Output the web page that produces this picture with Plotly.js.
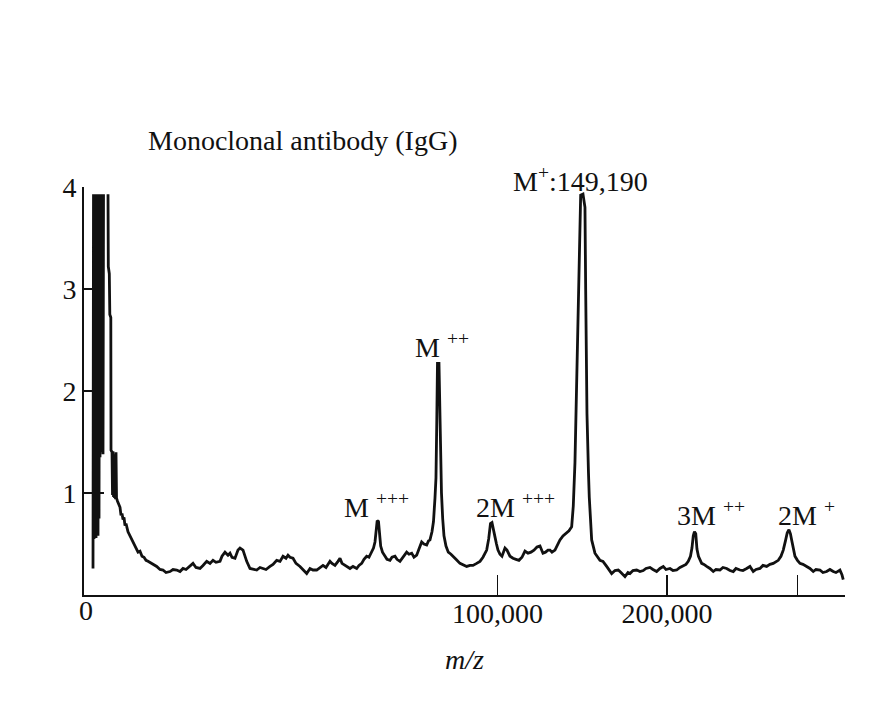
<!DOCTYPE html>
<html>
<head>
<meta charset="utf-8">
<script src="https://cdn.plot.ly/plotly-3.0.1.min.js"></script>
<style>html,body{margin:0;padding:0;background:#fff;}#chart{width:872px;height:705px;}</style>
</head>
<body>
<div id="chart"></div>
<script>
// m/z values of the trace (axis is drawn on a square-root, time-of-flight scale)
const mz = [14.9, 18.0, 21.5, 25.2, 29.2, 33.5, 38.2, 43.1, 48.3, 53.8, 59.6, 65.7, 72.2, 78.9, 85.9, 93.2, 100.8, 108.7, 116.9, 125.4, 134.2, 143.3,
  193.2,
  238.5, 245.7, 270.5, 283.4, 310.0, 315.4, 343.5, 357.9, 372.7, 387.7, 403.1, 418.7, 434.7, 451.0, 467.5, 484.4, 518.9,
  573, 611, 649, 689, 731, 773, 816, 861, 954, 1002, 1103, 1208, 1262, 1374, 1491, 1612, 1739, 1870, 2006, 2147, 2292,
  2519, 2814, 3091, 3354, 3628, 4010, 4308, 4691, 5047, 5382, 5727, 6204, 6574, 6955, 7480, 7886, 8402, 8875, 9317, 9770,
  10390, 10707, 11192, 11687, 12024, 12365, 12885, 13417, 13777, 14326, 14698, 15018, 15649, 16234, 16970, 17641, 18262, 18893,
  19752, 20408, 21233, 21982, 22674, 23377, 23852, 24331, 25059, 25798, 26800, 27564, 28521, 29388, 30187, 31188, 32095, 32930,
  33777, 34921, 35501, 36379, 37268, 37867, 38471, 39384, 40309, 40932, 41875, 43052, 43792, 44669, 45423, 46316, 47084, 47993,
  48604, 49116, 49528, 49872, 50321, 50738, 51086, 51717, 52598, 53309, 54384, 55107, 56200, 56935, 58045, 59167, 60565, 61443,
  62481, 63372, 64426, 65330, 66401, 67319, 68405, 69134, 69745, 70563, 71180, 71799, 72214, 72546, 72837, 73464, 73799, 74177,
  74514, 75021, 75572, 76424, 77409, 78573, 79572, 80753, 82517, 83854, 85517, 87013, 88386, 90092, 91629, 93037, 94788, 95741,
  96604, 97325, 98049, 98775, 99505, 100237, 101217, 102202, 103689, 104686, 106190, 107705, 109232, 110768, 112316, 113873,
  115442, 117022, 118612, 120213, 121825, 123448, 124808, 126176, 127275, 128380, 130045, 131721, 132844, 134539, 136643, 137959,
  139512, 140437, 141422, 142004, 143170, 144752, 146107, 147289, 147705, 148478, 149371, 149850, 151288, 153276, 156314, 158152,
  160432, 161858, 163540, 165608, 167689, 169401, 171952, 173879, 175169, 177114, 179527, 181693, 183872, 185665, 188335, 190352,
  192853, 195097, 197355, 199212, 201978, 204066, 206656, 208979, 211316, 213237, 214881, 216459, 217537, 218475, 219341, 220283,
  221154, 222244, 224580, 226267, 228255, 230696, 233151, 235169, 238173, 240440, 243250, 245770, 248304, 250386, 253486, 255825,
  258723, 261321, 263934, 266081, 269276, 271686, 274672, 277350, 280041, 282252, 284142, 286370, 288273, 290101, 291600, 293019,
  294275, 295281, 296625, 298057, 300168, 302288, 304840, 308003, 310838, 313686, 316026, 319508, 322132, 325384, 328297, 331224,
  333629, 337206, 339002, 340172];

// relative intensity (null = pen lifted above full scale)
const intensity = [0.26, 3.93, 0.55, 3.93, 0.57, 3.93, 0.56, 3.93, 0.60, 3.93, 0.58, 3.93, 0.75, 3.93, 1.35, 3.93, 1.40, 3.93, 1.42, 3.93, 1.38, 3.93,
  null,
  3.93, 3.22, 3.15, 2.75, 2.72, 1.42, 1.40, 0.98, 1.41, 0.96, 1.38, 0.95, 1.36, 0.94, 1.40, 0.95, 0.92,
  0.88, 0.86, 0.78, 0.80, 0.74, 0.76, 0.68, 0.70, 0.62, 0.60, 0.55, 0.52, 0.50, 0.46, 0.42, 0.43, 0.38, 0.37, 0.34, 0.33, 0.32,
  0.30, 0.28, 0.25, 0.245, 0.22, 0.23, 0.25, 0.245, 0.23, 0.26, 0.25, 0.28, 0.31, 0.27, 0.26, 0.29, 0.33, 0.31, 0.34, 0.32,
  0.33, 0.38, 0.42, 0.39, 0.41, 0.37, 0.36, 0.44, 0.46, 0.44, 0.38, 0.33, 0.26, 0.25, 0.245, 0.27, 0.26, 0.25,
  0.28, 0.30, 0.34, 0.33, 0.38, 0.36, 0.39, 0.37, 0.36, 0.31, 0.28, 0.25, 0.21, 0.26, 0.245, 0.245, 0.27, 0.29,
  0.27, 0.33, 0.31, 0.29, 0.33, 0.36, 0.31, 0.29, 0.27, 0.26, 0.28, 0.26, 0.29, 0.31, 0.35, 0.38, 0.37, 0.42,
  0.46, 0.52, 0.66, 0.73, 0.72, 0.62, 0.48, 0.42, 0.38, 0.35, 0.34, 0.37, 0.38, 0.35, 0.33, 0.37, 0.42, 0.40,
  0.41, 0.37, 0.39, 0.45, 0.52, 0.50, 0.49, 0.53, 0.54, 0.62, 0.72, 0.95, 1.15, 1.70, 2.27, 2.27, 1.70, 1.40,
  1.00, 0.75, 0.58, 0.48, 0.42, 0.40, 0.38, 0.35, 0.31, 0.30, 0.28, 0.29, 0.29, 0.31, 0.33, 0.37, 0.44, 0.55,
  0.70, 0.71, 0.62, 0.57, 0.50, 0.44, 0.40, 0.38, 0.46, 0.44, 0.38, 0.36, 0.35, 0.34, 0.37, 0.43,
  0.41, 0.42, 0.44, 0.47, 0.48, 0.41, 0.42, 0.44, 0.44, 0.42, 0.44, 0.50, 0.54, 0.58, 0.61, 0.63,
  0.67, 0.87, 1.30, 1.78, 2.70, 3.92, 3.93, 3.80, 3.00, 1.78, 1.20, 0.96, 0.54, 0.41, 0.34, 0.33,
  0.28, 0.25, 0.21, 0.24, 0.245, 0.22, 0.18, 0.22, 0.21, 0.24, 0.245, 0.23, 0.24, 0.26, 0.27, 0.25,
  0.23, 0.26, 0.28, 0.25, 0.26, 0.24, 0.245, 0.27, 0.29, 0.30, 0.33, 0.38, 0.46, 0.58, 0.62, 0.60,
  0.45, 0.38, 0.31, 0.30, 0.28, 0.26, 0.23, 0.25, 0.245, 0.27, 0.26, 0.24, 0.23, 0.26, 0.245, 0.24,
  0.26, 0.28, 0.23, 0.25, 0.26, 0.29, 0.28, 0.30, 0.31, 0.33, 0.34, 0.38, 0.44, 0.53, 0.61, 0.64,
  0.60, 0.54, 0.46, 0.38, 0.34, 0.31, 0.30, 0.28, 0.26, 0.23, 0.25, 0.245, 0.22, 0.23, 0.25, 0.23,
  0.22, 0.245, 0.20, 0.15];

// x-axis tick values (m/z) and labels
const xTickMz = [100000, 200000, 300000];
const xTickText = ['100,000', '200,000', ''];
// y-axis ticks
const yTickVals = [1, 2, 3, 4];
const yTickText = ['1', '2', '3', '4'];

// peak labels
const ionText = ['M<sup>+</sup>:149,190', 'M <sup>++</sup>', 'M <sup>+++</sup>', '2M <sup>+++</sup>', '3M <sup>++</sup>', '2M <sup>+</sup>'];
const ionMz = [149190, 74595, 49730, 99460, 223785, 298380];
const ionLabelY = [4.0, 2.45, 0.88, 0.88, 0.80, 0.80];

const titleText = 'Monoclonal antibody (IgG)';
const xTitle = '<i>m/z</i>';

const sq = v => Math.sqrt(v);
const FONT = 'Liberation Serif, Times New Roman, serif';
const FS = 28;
const ionShift = [-8, 0, 0, 19, 10, 11];
const ionYShift = [8, 0, 0, 0, 0, 0];

const trace = {
  type: 'scatter', mode: 'lines',
  x: mz.map(sq), y: intensity,
  connectgaps: false,
  line: {color: '#111', width: 2.8},
  hoverinfo: 'skip', showlegend: false
};

const annotations = ionText.map((t, i) => ({
  x: sq(ionMz[i]), y: ionLabelY[i], xref: 'x', yref: 'y',
  text: t, showarrow: false, xanchor: 'center', yanchor: 'middle',
  xshift: ionShift[i], yshift: ionYShift[i],
  font: {family: FONT, size: FS, color: '#111'}
}));

const layout = {
  width: 872, height: 705,
  paper_bgcolor: '#fff', plot_bgcolor: '#fff',
  margin: {l: 84, r: 27, t: 187, b: 110, pad: 0},
  title: {
    text: titleText, xref: 'container', yref: 'container',
    x: 148 / 872, xanchor: 'left', y: 1 - 140 / 705, yanchor: 'middle',
    font: {family: FONT, size: FS, color: '#111'}
  },
  xaxis: {
    range: [sq(0) - 3.1, 584.6],
    showline: true, linecolor: '#111', linewidth: 2,
    ticks: 'inside', ticklen: 20, tickwidth: 1.5, tickcolor: '#111',
    tickmode: 'array', tickvals: xTickMz.map(sq), ticktext: xTickText,
    tickfont: {family: FONT, size: FS, color: '#111'},
    ticklabelstandoff: -8,
    showgrid: false, zeroline: false,
    title: {text: xTitle, font: {family: FONT, size: FS, color: '#111'}, standoff: 22}
  },
  yaxis: {
    range: [0, 4],
    showline: true, linecolor: '#111', linewidth: 2,
    ticks: 'inside', ticklen: 20, tickwidth: 1.5, tickcolor: '#111',
    tickmode: 'array', tickvals: yTickVals, ticktext: yTickText,
    tickfont: {family: FONT, size: FS, color: '#111'},
    showgrid: false, zeroline: false
  },
  annotations: annotations.concat([{
    x: 0, y: 0, xref: 'x', yref: 'paper', text: '0', showarrow: false,
    xanchor: 'center', yanchor: 'top', yshift: 2, xshift: -2,
    font: {family: FONT, size: FS, color: '#111'}
  }])
};

Plotly.newPlot('chart', [trace], layout, {staticPlot: true, displayModeBar: false});
</script>
</body>
</html>
